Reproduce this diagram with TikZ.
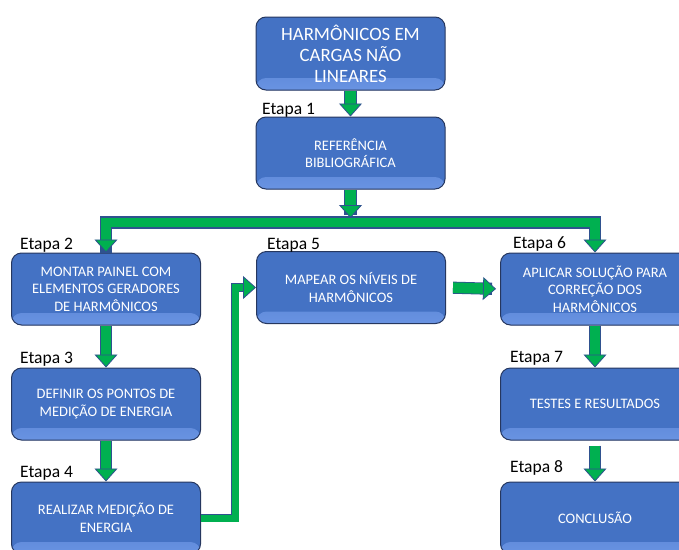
\documentclass[tikz,border=0pt]{standalone}
\usepackage{fontspec}
\setmainfont{Carlito}
\usetikzlibrary{arrows.meta}
\definecolor{boxblue}{HTML}{4472C4}
\definecolor{boxlight}{HTML}{6993E2}
\definecolor{boxedge}{HTML}{26375F}
\definecolor{flowgreen}{HTML}{00B050}
\definecolor{flowedge}{HTML}{2F528F}

\begin{document}
\begin{tikzpicture}[x=1pt,y=-1pt,
  >={Triangle[width=23pt,length=13pt,color=flowedge,fill=flowgreen,line width=0.8pt]},
  stepbox/.style={draw=boxedge,line width=1pt,fill=boxblue,rounded corners=10pt,
    minimum width=189pt,minimum height=72pt,align=center,text=white,
    font=\fontsize{14.5}{17.5}\selectfont,
    path picture={\shade[top color=boxblue,bottom color=boxlight]
      ([yshift=12pt]path picture bounding box.south west) rectangle (path picture bounding box.south east);}},
  etapa/.style={anchor=base west,inner sep=0pt,font=\fontsize{17.5}{20}\selectfont},
  flow/.style={->,draw=flowgreen,line width=10.5pt,line join=miter,
    preaction={draw=flowedge,line width=12.1pt,shorten >=8pt,-}},
  thinflow/.style={->,draw=flowgreen,line width=7pt,line join=miter,
    preaction={draw=flowedge,line width=8.4pt,shorten >=8pt,-}},
]
  \useasboundingbox (0,0) rectangle (679,549);
  % caixas das etapas
  \node[stepbox,minimum height=73pt,font=\fontsize{18.8}{21}\selectfont] (title) at (350.5,53.5)
    {HARMÔNICOS EM\\CARGAS NÃO\\LINEARES};
  \node[stepbox] (ref) at (350.5,153) {REFERÊNCIA\\BIBLIOGRÁFICA};
  \node[stepbox] (painel) at (106,289) {MONTAR PAINEL COM\\ELEMENTOS GERADORES\\DE HARMÔNICOS};
  \node[stepbox] (pontos) at (106,404) {DEFINIR OS PONTOS DE\\MEDIÇÃO DE ENERGIA};
  \node[stepbox] (medicao) at (106,518) {REALIZAR MEDIÇÃO DE\\ENERGIA};
  \node[stepbox] (mapear) at (351,287.5) {MAPEAR OS NÍVEIS DE\\HARMÔNICOS};
  \node[stepbox] (solucao) at (595,289) {APLICAR SOLUÇÃO PARA\\CORREÇÃO DOS\\HARMÔNICOS};
  \node[stepbox] (testes) at (595,404) {TESTES E RESULTADOS};
  \node[stepbox] (conclusao) at (595,518) {CONCLUSÃO};
  % rótulos
  \node[etapa] (e1) at (262,114) {Etapa 1};
  \node[etapa] (e2) at (20,249.5) {Etapa 2};
  \node[etapa] (e3) at (20,363) {Etapa 3};
  \node[etapa] (e4) at (20,477) {Etapa 4};
  \node[etapa] (e5) at (267,249) {Etapa 5};
  \node[etapa] (e6) at (513,248) {Etapa 6};
  \node[etapa] (e7) at (510,362) {Etapa 7};
  \node[etapa] (e8) at (510,472) {Etapa 8};
  % setas
  \coordinate (bar) at (350.5,222.5);
  \draw[flow] (title.south) -- (ref.north);
  \draw[flow,shorten >=4.5pt] (ref.south) -- (bar);
  \draw[flow,line width=9.5pt,preaction={draw=flowedge,line width=11.1pt,shorten >=8pt,shorten <=8pt,-},<->]
    (painel.north) |- (bar) -| (solucao.north);
  \draw[flow] (painel.south) -- (pontos.north);
  \draw[flow] (pontos.south) -- (medicao.north);
  \draw[thinflow] (medicao.east) -- ++(34,0) |- (mapear.west);
  \draw[flow,shorten <=7pt,shorten >=4pt] (mapear.east) -- (solucao.west);
  \draw[flow] (solucao.south) -- (testes.north);
  \draw[flow,shorten <=5pt] (testes.south) -- (conclusao.north);
\end{tikzpicture}
\end{document}
